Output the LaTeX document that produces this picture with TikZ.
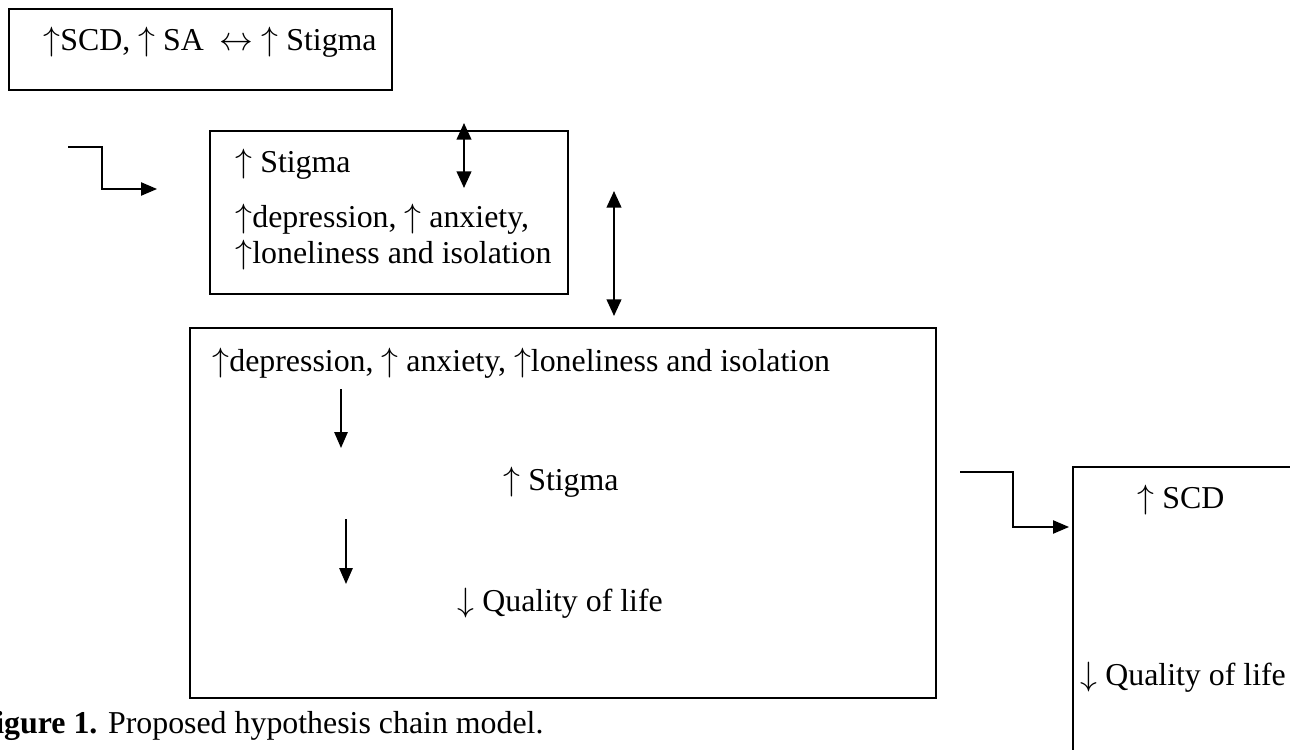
\documentclass[tikz,border=0pt]{standalone}
\usepackage{fontspec}
\setmainfont{Liberation Serif}
\usetikzlibrary{fit}
\usetikzlibrary{arrows.meta}

\newcommand{\up}{$\uparrow$}
\newcommand{\down}{$\downarrow$}

\tikzset{
  box/.style={draw, line width=0.6pt, inner sep=0pt},
  txt/.style={anchor=base west, inner sep=0pt, font=\fontsize{13.6}{16}\selectfont},
  arr/.style={line width=0.55pt, -{Triangle[length=2.4mm,width=2mm]}},
  darr/.style={line width=0.9pt, {Triangle[length=2.5mm,width=2.2mm]}-{Triangle[length=2.5mm,width=2.2mm]}},
}

\begin{document}
\begin{tikzpicture}[x=0.015cm, y=-0.015cm]
        \useasboundingbox (0,0) rectangle (1290,749);
        \clip (0,0) rectangle (1290,749);

        \node[box, fit={(9,9) (392,90)}] (first) {};
        \node[txt] (firsttext) at (43,50) {\up SCD, \up\ SA\ \ $\leftrightarrow$ \up\ Stigma};

        \node[box, fit={(210,131) (568,294)}] (second) {};
        \node[txt] (secondstigma) at (235,172) {\up\ Stigma};
        \node[txt] (seconddep) at (235,227) {\up depression, \up\ anxiety,};
        \node[txt] (secondlone) at (235,263) {\up loneliness and isolation};

        \node[box, fit={(190,328) (936,698)}] (third) {};
        \node[txt] (thirddep) at (212,371) {\up depression, \up\ anxiety, \up loneliness and isolation};
        \node[txt] (thirdstigma) at (503,490) {\up\ Stigma};
        \node[txt] (thirdqol) at (457,611) {\down\ Quality of life};

        \node[box, fit={(1073,467) (1400,800)}] (fourth) {};
        \node[txt] (fourthscd) at (1137,508) {\up\ SCD};
        \node[txt] (fourthqol) at (1080,685) {\down\ Quality of life};

        \node[txt, anchor=base east] (caption) at (544,733) {\textbf{Figure 1.} Proposed hypothesis chain model.};

        \coordinate (elbowastart) at (68,147);
        \coordinate (elbowaend) at (157,189);
        \coordinate (elbowbstart) at (960,472);
        \coordinate (elbowbend) at (1069,527);
        \draw[arr] (elbowastart) -- ++(34,0) |- (elbowaend);
        \draw[arr] (elbowbstart) -- ++(53,0) |- (elbowbend);

        \coordinate (innertop) at (464,123);
        \coordinate (innerbot) at (464,188);
        \coordinate (sidetop) at (614,191);
        \coordinate (sidebot) at (614,316);
        \draw[darr] (innertop) -- (innerbot);
        \draw[darr] (sidetop) -- (sidebot);

        \coordinate (downatop) at (341,389);
        \coordinate (downabot) at (341,448);
        \coordinate (downbtop) at (346,519);
        \coordinate (downbbot) at (346,584);
        \draw[arr, line width=0.8pt] (downatop) -- (downabot);
        \draw[arr, line width=0.8pt] (downbtop) -- (downbbot);

    \end{tikzpicture}
\end{document}
